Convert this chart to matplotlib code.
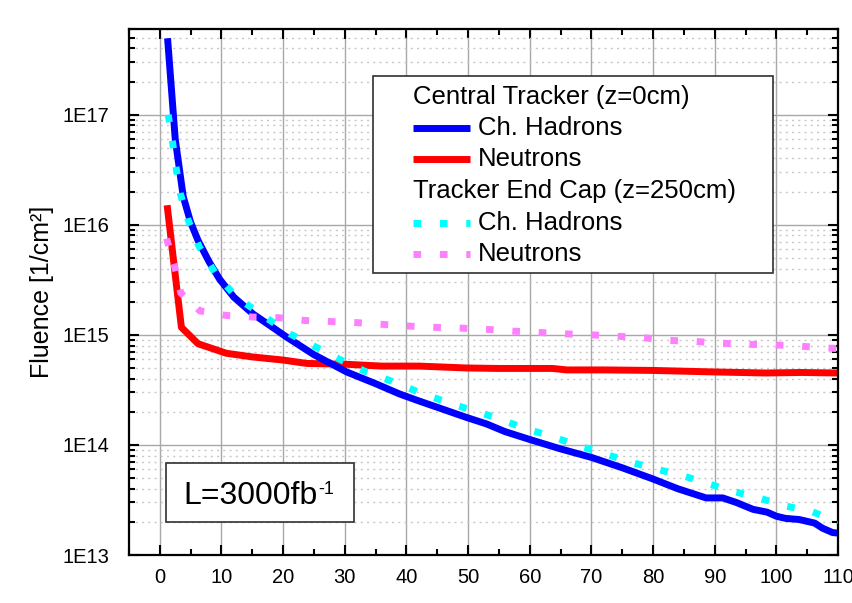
import numpy as np
import matplotlib
matplotlib.use("Agg")
import matplotlib.pyplot as plt
import matplotlib.ticker as ticker
from matplotlib.lines import Line2D
from matplotlib.patches import Rectangle

plt.rcParams['font.family'] = ['Liberation Sans', 'DejaVu Sans']

# Central tracker (z=0cm)
ct_had_x = [1.3, 2.5, 3.8, 5.0, 6.2, 8.0, 9.7, 12.0, 15.1, 18.0, 20.5, 25.0, 30.3, 35.0, 38.9, 42.1,
            46.0, 49.7, 53.0, 56.0, 60.0, 65.0, 70.0, 75.0, 80.0, 84.0, 88.6, 91.3, 93.5, 96.2, 98.5,
            100.0, 101.5, 103.7, 106.2, 107.5, 109.1, 110.0]
ct_had_y = [4.6e17, 6.0e16, 1.8e16, 1.05e16, 7.2e15, 4.6e15, 3.2e15, 2.2e15, 1.55e15, 1.2e15, 9.6e14,
            6.6e14, 4.6e14, 3.6e14, 2.9e14, 2.5e14, 2.1e14, 1.78e14, 1.55e14, 1.32e14, 1.12e14,
            9.2e13, 7.7e13, 6.2e13, 4.9e13, 4.0e13, 3.3e13, 3.3e13, 3.0e13, 2.6e13, 2.45e13, 2.25e13,
            2.15e13, 2.1e13, 1.95e13, 1.75e13, 1.6e13, 1.58e13]
ct_neu_x = [1.25, 2.5, 3.5, 6.2, 10.8, 15.0, 20.0, 23.8, 30.3, 36.0, 42.1, 49.7, 55.0, 63.7, 66.0,
            72.0, 80.0, 90.0, 98.3, 104.0, 110.0]
ct_neu_y = [1.4e16, 3.5e15, 1.17e15, 8.3e14, 6.8e14, 6.3e14, 5.9e14, 5.5e14, 5.4e14, 5.2e14, 5.2e14,
            5.0e14, 4.95e14, 4.95e14, 4.8e14, 4.8e14, 4.75e14, 4.6e14, 4.5e14, 4.55e14, 4.5e14]

# Tracker end cap (z=250cm)
ec_had_x = [1.35, 2.05, 2.6, 3.35, 4.6, 6.4, 8.9, 12.4, 16.7, 21.1, 25.4, 29.4, 33.5, 38.1, 42.1,
            46.5, 50.8, 54.8, 59.2, 63.5, 67.5, 71.9, 75.9, 80.2, 84.6, 88.6, 92.9, 97.2, 101.3,
            105.6, 110.0]
ec_had_y = [1.0e17, 5.7e16, 3.4e16, 1.9e16, 1.1e16, 6.3e15, 3.7e15, 2.2e15, 1.5e15, 1.02e15, 7.7e14,
            5.9e14, 4.6e14, 3.7e14, 3.0e14, 2.45e14, 2.05e14, 1.75e14, 1.41e14, 1.2e14, 1.0e14,
            8.4e13, 7.1e13, 6.1e13, 5.3e13, 4.5e13, 3.8e13, 3.3e13, 2.8e13, 2.5e13, 2.0e13]
ec_neu_x = [1.1, 1.6, 2.4, 3.4, 6.5, 10.8, 15.1, 19.4, 23.5, 27.8, 32.1, 36.5, 40.5, 44.6, 48.9,
            53.2, 57.3, 61.6, 65.9, 70.0, 74.3, 78.6, 82.7, 87.0, 91.0, 95.3, 99.7, 103.7, 108.0, 110.0]
ec_neu_y = [7.5e15, 5.9e15, 4.2e15, 2.4e15, 1.65e15, 1.5e15, 1.45e15, 1.43e15, 1.35e15, 1.32e15,
            1.29e15, 1.24e15, 1.2e15, 1.17e15, 1.15e15, 1.12e15, 1.08e15, 1.05e15, 1.02e15, 1.0e15,
            9.7e14, 9.4e14, 8.9e14, 8.7e14, 8.4e14, 8.2e14, 8.1e14, 7.9e14, 7.6e14, 7.5e14]

fig = plt.figure(figsize=(8.52, 6.03), dpi=100)
ax = fig.add_axes([0.1514, 0.0796, 0.8322, 0.8723])

ax.plot(ec_had_x, ec_had_y, color='#00ffff', lw=5, dashes=(1.1, 2.7), zorder=3)
ax.plot(ec_neu_x, ec_neu_y, color='#ff80ff', lw=5, dashes=(1.1, 2.7), zorder=3)
ax.plot(ct_neu_x, ct_neu_y, color='#ff0000', lw=5, zorder=2)
ax.plot(ct_had_x, ct_had_y, color='#0000ff', lw=5, zorder=2)

ax.set_yscale('log')
ax.set_xlim(-5, 110)
ax.set_ylim(1e13, 6e17)

ax.xaxis.set_major_locator(ticker.MultipleLocator(10))
ax.xaxis.set_minor_locator(ticker.MultipleLocator(5))
ax.yaxis.set_major_locator(ticker.LogLocator(base=10, numticks=10))
ax.yaxis.set_minor_locator(ticker.LogLocator(base=10, subs=np.arange(2, 10), numticks=20))
ax.yaxis.set_minor_formatter(ticker.NullFormatter())
ax.yaxis.set_major_formatter(ticker.FuncFormatter(lambda v, p: "1E%d" % round(np.log10(v))))

ax.tick_params(which='both', direction='in', top=True, right=True, width=1.5, labelsize=14.5)
ax.tick_params(which='major', length=7, pad=9)
ax.tick_params(which='minor', length=4)
ax.tick_params(axis='y', which='major', pad=14)
for s in ax.spines.values():
    s.set_linewidth(1.6)

ax.grid(True, which='major', axis='both', color='#a8a8a8', lw=1.0, ls='-', zorder=0)
ax.grid(True, which='minor', axis='y', color='#c8c8c8', lw=1.0, ls=(0, (1.5, 3)), zorder=0)
ax.set_axisbelow(True)

ax.set_ylabel('Fluence [1/cm²]', fontsize=18, labelpad=6)

# legend box
T = ax.transAxes
def ax_xy(px, py):
    return ((px - 129) / 709.0, (555 - py) / 526.0)

x0, y0 = ax_xy(373, 273)
x1, y1 = ax_xy(773, 76)
ax.add_patch(Rectangle((x0, y0), x1 - x0, y1 - y0, transform=T, facecolor='white',
                       edgecolor='#303030', lw=1.2, zorder=5))
rows = [("Central Tracker (z=0cm)", None, None, 97),
        ("Ch. Hadrons", '#0000ff', None, 128),
        ("Neutrons", '#ff0000', None, 159),
        ("Tracker End Cap (z=250cm)", None, None, 191),
        ("Ch. Hadrons", '#00ffff', (1.1, 2.7), 223),
        ("Neutrons", '#ff80ff', (1.1, 2.7), 254)]
for label, col, dash, py in rows:
    if col is None:
        tx, ty = ax_xy(413, py)
    else:
        hx0, hy = ax_xy(413, py)
        hx1, _ = ax_xy(470, py)
        ln = Line2D([hx0, hx1], [hy, hy], color=col, lw=5, transform=T, zorder=6,
                    solid_capstyle='butt', dash_capstyle='butt')
        if dash is not None:
            ln.set_dashes(dash)
        ax.add_line(ln)
        tx, ty = ax_xy(478, py)
    ax.text(tx, ty, label, transform=T, fontsize=18.5, va='center', ha='left', zorder=6)

# luminosity box
bx0, by0 = ax_xy(166, 522)
bx1, by1 = ax_xy(354, 463)
ax.add_patch(Rectangle((bx0, by0), bx1 - bx0, by1 - by0, transform=T, facecolor='white',
                       edgecolor='#303030', lw=1.2, zorder=5))
lx, ly = ax_xy(183, 496)
lum = ax.text(lx, ly, 'L=3000fb', transform=T, fontsize=23, ha='left', va='center', zorder=6)
ax.annotate('-1', xy=(1, 1), xycoords=lum, xytext=(1, 0), textcoords='offset points',
            fontsize=13, ha='left', va='top', zorder=6)

fig.savefig('out.png', dpi=100)
